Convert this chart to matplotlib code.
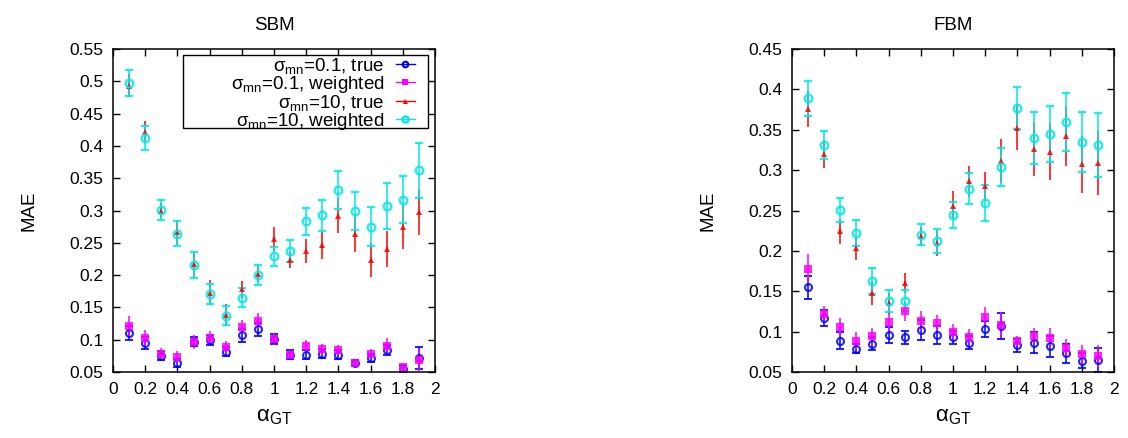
import numpy as np
import matplotlib
matplotlib.use('Agg')
import matplotlib.pyplot as plt
from matplotlib.lines import Line2D
from matplotlib.patches import Rectangle
from matplotlib.ticker import FormatStrFormatter

plt.rcParams['font.family'] = ['Liberation Sans', 'DejaVu Sans']
plt.rcParams['mathtext.fontset'] = 'custom'
plt.rcParams['mathtext.rm'] = 'Liberation Sans'
plt.rcParams['mathtext.it'] = 'Liberation Sans:italic'

alpha_gt = [0.1, 0.2, 0.3, 0.4, 0.5, 0.6, 0.7, 0.8, 0.9, 1.0,
            1.1, 1.2, 1.3, 1.4, 1.5, 1.6, 1.7, 1.8, 1.9]

# SBM panel
sbm_true01 = [0.110, 0.095, 0.075, 0.064, 0.097, 0.100, 0.081, 0.107, 0.116, 0.101,
              0.077, 0.077, 0.078, 0.077, 0.064, 0.072, 0.084, 0.055, 0.071]
sbm_true01_err = [0.011, 0.009, 0.007, 0.006, 0.007, 0.008, 0.007, 0.010, 0.010, 0.008,
                  0.007, 0.007, 0.007, 0.007, 0.004, 0.006, 0.008, 0.006, 0.017]
sbm_w01 = [0.121, 0.103, 0.078, 0.073, 0.097, 0.103, 0.089, 0.120, 0.129, 0.101,
           0.077, 0.091, 0.085, 0.084, 0.064, 0.078, 0.090, 0.058, 0.069]
sbm_w01_err = [0.015, 0.012, 0.009, 0.009, 0.011, 0.010, 0.009, 0.011, 0.013, 0.009,
               0.007, 0.009, 0.009, 0.008, 0.005, 0.007, 0.012, 0.004, 0.018]
sbm_true10 = [0.493, 0.422, 0.300, 0.266, 0.217, 0.173, 0.138, 0.178, 0.202, 0.256,
              0.223, 0.237, 0.246, 0.292, 0.263, 0.223, 0.241, 0.275, 0.297]
sbm_true10_err = [0.018, 0.017, 0.012, 0.020, 0.021, 0.019, 0.017, 0.013, 0.013, 0.018,
                  0.012, 0.019, 0.021, 0.027, 0.027, 0.026, 0.028, 0.035, 0.035]
sbm_w10 = [0.498, 0.412, 0.301, 0.264, 0.216, 0.171, 0.137, 0.165, 0.200, 0.229,
           0.237, 0.283, 0.293, 0.332, 0.299, 0.275, 0.307, 0.317, 0.362]
sbm_w10_err = [0.020, 0.019, 0.015, 0.019, 0.020, 0.015, 0.015, 0.015, 0.015, 0.015,
               0.017, 0.021, 0.024, 0.029, 0.029, 0.030, 0.035, 0.037, 0.042]

# FBM panel
fbm_true01 = [0.155, 0.117, 0.089, 0.079, 0.085, 0.096, 0.093, 0.102, 0.096, 0.093,
              0.086, 0.103, 0.107, 0.083, 0.086, 0.082, 0.073, 0.064, 0.065]
fbm_true01_err = [0.014, 0.010, 0.010, 0.006, 0.008, 0.010, 0.008, 0.012, 0.011, 0.008,
                  0.008, 0.010, 0.016, 0.008, 0.013, 0.013, 0.012, 0.009, 0.015]
fbm_w01 = [0.178, 0.122, 0.106, 0.089, 0.094, 0.112, 0.125, 0.113, 0.111, 0.100,
           0.093, 0.118, 0.108, 0.088, 0.094, 0.092, 0.080, 0.072, 0.070]
fbm_w01_err = [0.018, 0.010, 0.011, 0.010, 0.010, 0.012, 0.012, 0.012, 0.010, 0.010,
               0.010, 0.012, 0.016, 0.006, 0.010, 0.012, 0.011, 0.012, 0.014]
fbm_true10 = [0.376, 0.320, 0.224, 0.204, 0.148, 0.135, 0.160, 0.218, 0.210, 0.256,
              0.286, 0.280, 0.311, 0.352, 0.326, 0.323, 0.342, 0.307, 0.309]
fbm_true10_err = [0.022, 0.017, 0.015, 0.015, 0.015, 0.013, 0.012, 0.012, 0.016, 0.018,
                  0.019, 0.018, 0.027, 0.027, 0.033, 0.035, 0.037, 0.035, 0.040]
fbm_w10 = [0.389, 0.331, 0.251, 0.222, 0.163, 0.138, 0.138, 0.220, 0.212, 0.244,
           0.277, 0.259, 0.304, 0.377, 0.340, 0.345, 0.360, 0.335, 0.331]
fbm_w10_err = [0.022, 0.017, 0.015, 0.016, 0.016, 0.014, 0.013, 0.013, 0.015, 0.016,
               0.019, 0.022, 0.024, 0.026, 0.032, 0.035, 0.036, 0.037, 0.040]

labels = ['σ$_{\\mathrm{mn}}$=0.1, true', 'σ$_{\\mathrm{mn}}$=0.1, weighted',
          'σ$_{\\mathrm{mn}}$=10, true', 'σ$_{\\mathrm{mn}}$=10, weighted']
colors = ['#0000ff', '#ff00ff', '#ff0000', '#00e8e8']
styles = [dict(marker='o', ms=5, mfc='none', mew=1.5),
          dict(marker='s', ms=6, mfc='#ff00ff', mew=0),
          dict(marker='^', ms=4.5, mfc='#ff0000', mew=0),
          dict(marker='o', ms=5.5, mfc='none', mew=1.7)]

xticks = [0, 0.2, 0.4, 0.6, 0.8, 1, 1.2, 1.4, 1.6, 1.8, 2]
xticklabels = ['0', '0.2', '0.4', '0.6', '0.8', '1', '1.2', '1.4', '1.6', '1.8', '2']

fig = plt.figure(figsize=(11.28, 4.38), dpi=100)
ax1 = fig.add_axes([0.1002, 0.1507, 0.2855, 0.7374])
ax2 = fig.add_axes([0.7021, 0.1507, 0.2855, 0.7374])

panels = [
    (ax1, 'SBM', [(sbm_true01, sbm_true01_err), (sbm_w01, sbm_w01_err),
                  (sbm_true10, sbm_true10_err), (sbm_w10, sbm_w10_err)],
     (0.05, 0.55), np.arange(0.05, 0.551, 0.05)),
    (ax2, 'FBM', [(fbm_true01, fbm_true01_err), (fbm_w01, fbm_w01_err),
                  (fbm_true10, fbm_true10_err), (fbm_w10, fbm_w10_err)],
     (0.05, 0.45), np.arange(0.05, 0.451, 0.05)),
]

for ax, title, series, ylim, yticks in panels:
    for (vals, errs), c, st in zip(series, colors, styles):
        ax.errorbar(alpha_gt, vals, yerr=errs, color=c, ecolor=c, linestyle='none',
                    elinewidth=1.3, capsize=3, capthick=1.1, alpha=0.85,
                    mec=c, **st)
    ax.set_xlim(0, 2)
    ax.set_ylim(*ylim)
    ax.set_xticks(xticks)
    ax.set_xticklabels(xticklabels)
    ax.set_yticks(yticks)
    ax.yaxis.set_major_formatter(FormatStrFormatter('%g'))
    ax.tick_params(direction='in', top=True, right=True, length=5, width=1,
                   labelsize=12.5, pad=7)
    for sp in ax.spines.values():
        sp.set_linewidth(1.1)
    ax.set_title(title, fontsize=13.5, pad=14)
    ax.set_ylabel('MAE', fontsize=13.5, labelpad=23)
    ax.set_xlabel('α$_{\\mathrm{GT}}$', fontsize=16, labelpad=7)

# legend: gnuplot-like box with wide left margin
ax1.add_patch(Rectangle((0.217, 0.755), 0.761, 0.226, transform=ax1.transAxes,
                        facecolor='white', edgecolor='black', lw=1, zorder=5))
handles = [Line2D([], [], color=c, linestyle='-', lw=1, mec=c,
                  **dict(st, ms=st['ms'] * 0.8)) for c, st in zip(colors, styles)]
leg = ax1.legend(handles, labels, loc='upper right', bbox_to_anchor=(0.977, 1.02),
                 markerfirst=False, fontsize=13.5, frameon=False,
                 handlelength=1.0, handletextpad=0.6, labelspacing=-0.1,
                 borderpad=0.2)
leg.set_zorder(6)

fig.savefig('out.png', dpi=100)
